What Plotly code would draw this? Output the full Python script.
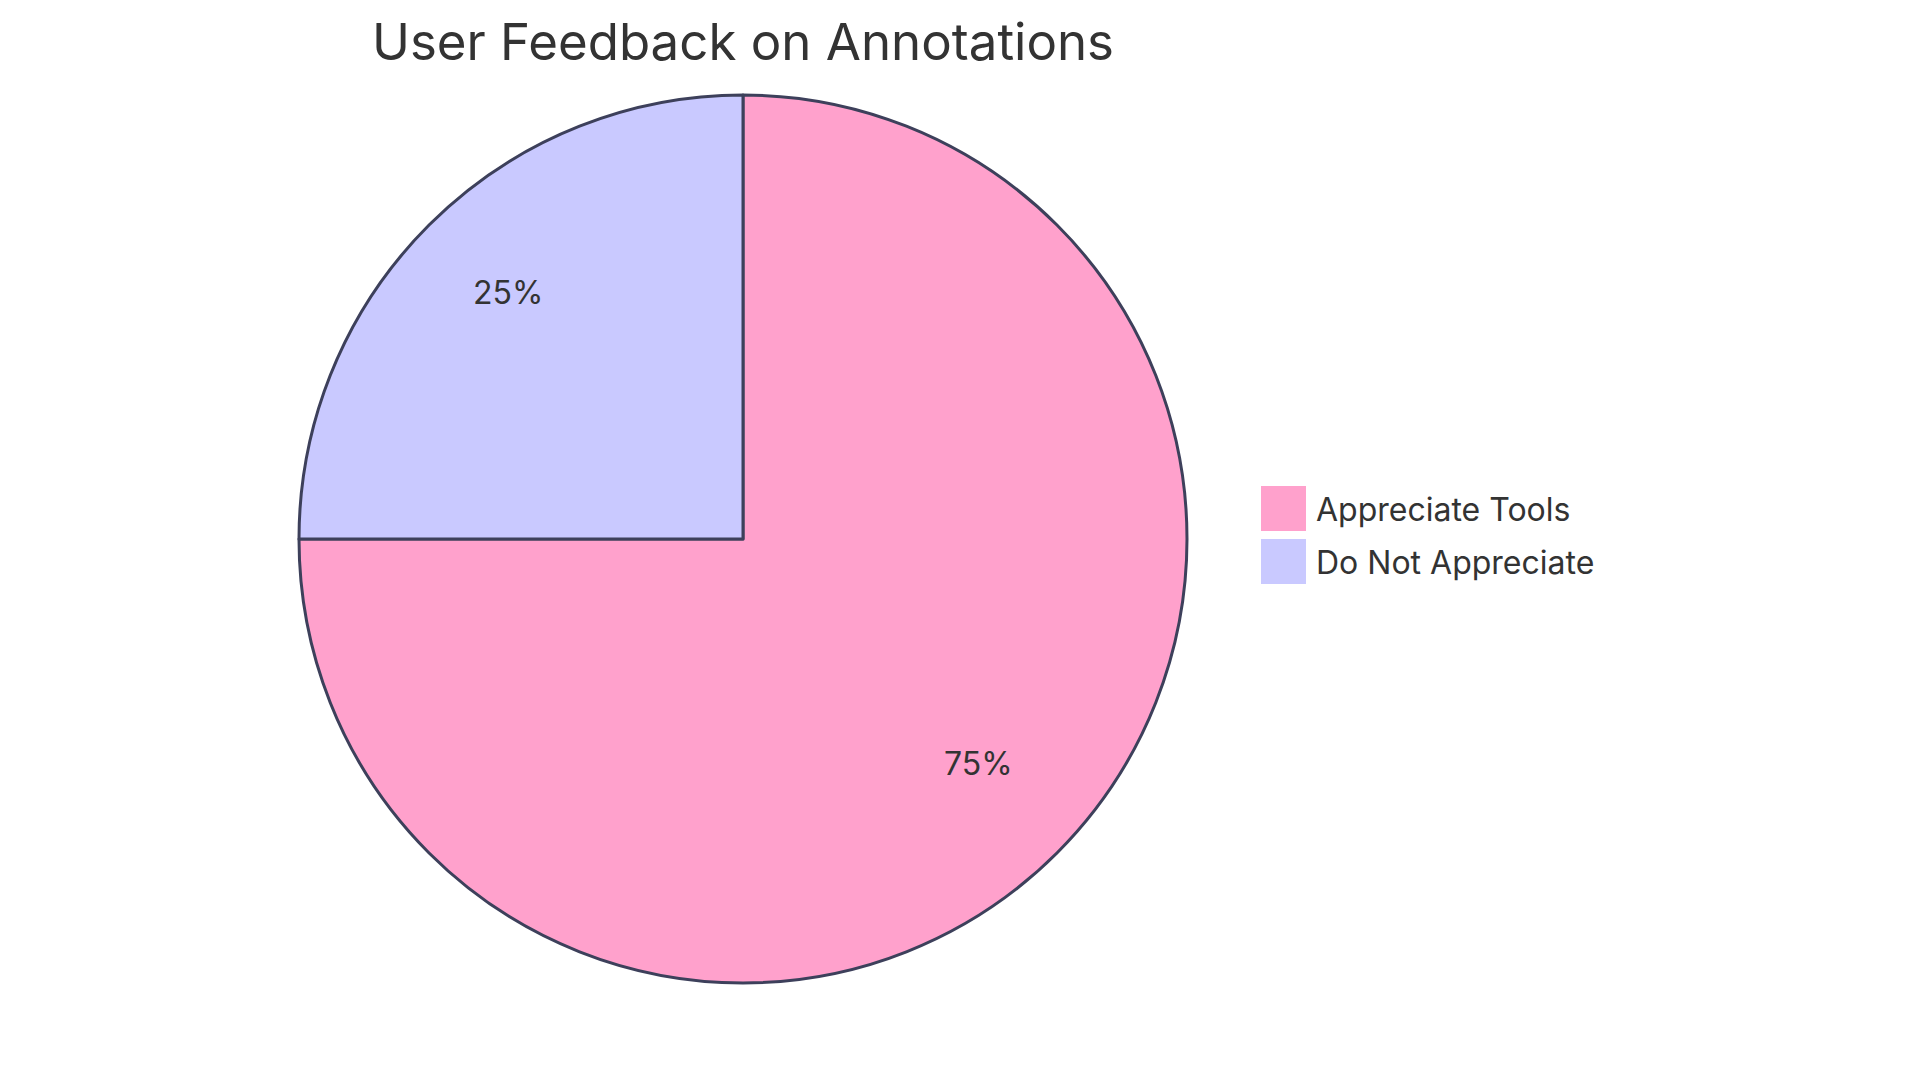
import math
import plotly.graph_objects as go

# chart data
labels = ['Appreciate Tools', 'Do Not Appreciate']
values = [75, 25]
colors = ['#FFA1CC', '#C9C9FF']

title = 'User Feedback on Annotations'
font_family = 'Inter, Roboto, sans-serif'
text_color = '#333333'
edge_color = '#3D405B'

W, H = 1920, 1083
# pie centre and radius in pixels (page body adds an 8px margin)
cx, cy, r = 735, 531, 444

fig = go.Figure()
fig.add_trace(go.Pie(
  labels = labels, values = values, sort = False, direction = 'clockwise',
  rotation = 0, marker = dict(colors = colors, line = dict(color = edge_color, width = 3)),
  textinfo = 'none',
  domain = dict(x = [(cx - r) / W, (cx + r) / W], y = [1 - (cy + r) / H, 1 - (cy - r) / H]),
  showlegend = False, hoverinfo = 'label+percent',
))

annotations = []
shapes = []

# percent labels at 3/4 of the radius on each slice bisector
total = sum(values)
start = 0
for v in values:
  mid = (start + v / 2) / total * 2 * math.pi
  start += v
  px_ = cx + 0.75 * r * math.sin(mid)
  py_ = cy - 0.75 * r * math.cos(mid)
  annotations.append(dict(text = f'{round(v / total * 100)}%', xref = 'paper', yref = 'paper',
    x = px_ / W, y = 1 - py_ / H, xanchor = 'center', yanchor = 'middle', yshift = 11,
    showarrow = False, font = dict(size = 32, color = text_color, family = font_family)))

# legend drawn by hand so the swatches can be as big as the reference
for i, (lab, col) in enumerate(zip(labels, colors)):
  y0 = 478 + i * 53
  shapes.append(dict(type = 'rect', xref = 'paper', yref = 'paper',
    x0 = 1253 / W, x1 = 1298 / W, y0 = 1 - (y0 + 45) / H, y1 = 1 - y0 / H,
    fillcolor = col, line = dict(width = 0)))
  annotations.append(dict(text = lab, xref = 'paper', yref = 'paper',
    x = 1306 / W, y = 1 - (y0 + 23) / H, xanchor = 'left', yanchor = 'middle',
    showarrow = False, font = dict(size = 32, color = text_color, family = font_family)))

fig.update_layout(
  width = W, height = H,
  title = dict(text = title, x = cx / W, xanchor = 'center', y = 1 - 34 / H, yanchor = 'middle',
               font = dict(size = 51, color = text_color, family = font_family)),
  margin = dict(l = 0, r = 0, t = 0, b = 0),
  paper_bgcolor = 'white', plot_bgcolor = 'white',
  shapes = shapes, annotations = annotations,
)

fig.write_html('out.html')
